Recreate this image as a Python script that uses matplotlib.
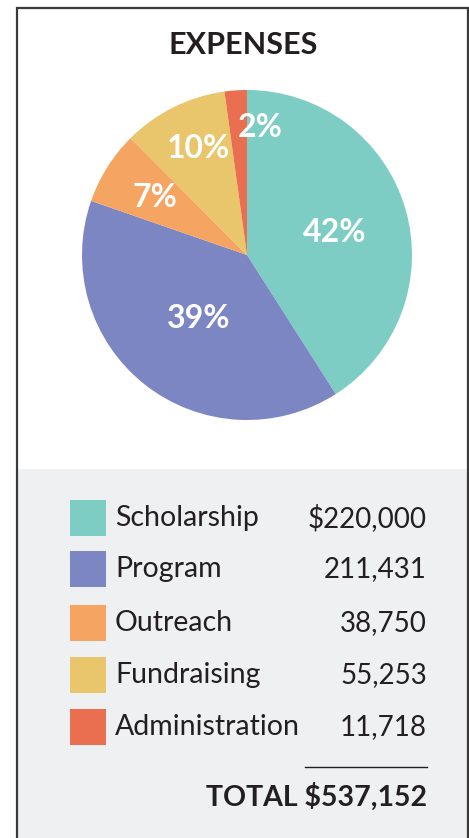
import matplotlib.pyplot as plt
from matplotlib.patches import Rectangle
import numpy as np

# data
categories = ["Scholarship", "Program", "Outreach", "Fundraising", "Administration"]
amounts = [220000, 211431, 38750, 55253, 11718]
amount_labels = ["$220,000", "211,431", "38,750", "55,253", "11,718"]
pct_labels = ["42%", "39%", "7%", "10%", "2%"]
total_label = "TOTAL $537,152"
colors = ["#7ECDC5", "#7B86C3", "#F5A462", "#E9C56B", "#E96F50"]

W, H = 469, 838
plt.rcParams['font.family'] = ['Lato', 'DejaVu Sans']

fig = plt.figure(figsize=(W / 100, H / 100), dpi=100)
fig.patch.set_facecolor("white")

def fx(x):
    return x / W

def fy(y):
    return 1 - y / H

# gray legend panel + frame
fig.add_artist(Rectangle((fx(17), fy(H + 5)), fx(451), (H + 5 - 469) / H,
                         transform=fig.transFigure, facecolor="#EFF0F2", edgecolor="none"))
fig.add_artist(Rectangle((fx(17), fy(H + 5)), fx(451), (H + 5 - 8) / H,
                         transform=fig.transFigure, facecolor="none",
                         edgecolor="#3a3a3a", linewidth=1.6))

fig.text(fx(243), fy(45), "EXPENSES", ha="center", va="center",
         fontsize=22, fontweight="bold", color="#231F20")

# pie
ax = fig.add_axes([fx(82), fy(420), fx(330), 330 / H])
wedges, _ = ax.pie(amounts, colors=colors, startangle=90, counterclock=False,
                   wedgeprops=dict(linewidth=0))
ax.set_xlim(-1, 1)
ax.set_ylim(-1, 1)
ax.set_aspect("equal")
ax.axis("off")

label_dist = [0.55, 0.48, 0.66, 0.71, 0.78]
label_shift = [-2, 1, 0, -2, -10]
for w, txt, d, s in zip(wedges, pct_labels, label_dist, label_shift):
    ang = np.deg2rad((w.theta1 + w.theta2) / 2 + s)
    ax.text(d * np.cos(ang), d * np.sin(ang), txt, ha="center", va="center",
            color="white", fontsize=23, fontweight="bold")

# legend table
row_y = [518, 569, 623, 675, 727]
for cat, amt, c, y in zip(categories, amount_labels, colors, row_y):
    fig.add_artist(Rectangle((fx(70), fy(y + 18)), fx(36), 36 / H,
                             transform=fig.transFigure, facecolor=c, edgecolor="none"))
    fig.text(fx(115), fy(y), cat, ha="left", va="center", fontsize=20.5, color="#231F20")
    fig.text(fx(427), fy(y), amt, ha="right", va="center", fontsize=20, color="#231F20")

fig.add_artist(plt.Line2D([fx(305), fx(427)], [fy(767), fy(767)],
                          transform=fig.transFigure, color="#231F20", linewidth=1))
fig.text(fx(427), fy(797), total_label, ha="right", va="center",
         fontsize=20.5, fontweight="bold", color="#231F20")

fig.savefig("out.png", dpi=100)
